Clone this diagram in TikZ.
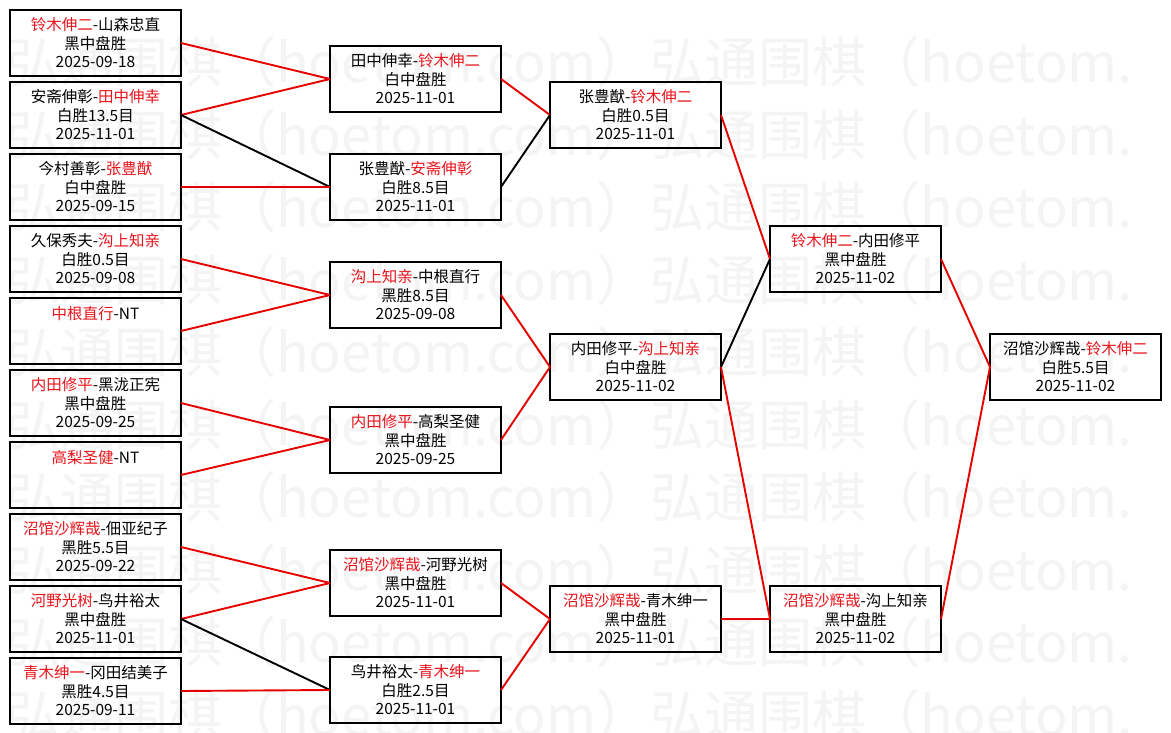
\documentclass[tikz,border=0pt]{standalone}
\usepackage{fontspec}
\setmainfont{Noto Sans CJK SC}
\usetikzlibrary{positioning}
\definecolor{winred}{HTML}{E8141B}
\definecolor{linered}{HTML}{E60000}
\definecolor{markgray}{HTML}{F4F4F4}
\newcommand{\wn}[1]{\textcolor{winred}{#1}}

\begin{document}
\begin{tikzpicture}[x=1pt, y=-1pt,
  node distance=6pt,
  game/.style={rectangle, draw=black, line width=1.8pt, outer sep=0pt, inner sep=0pt,
               minimum width=171pt, minimum height=66pt, align=center,
               font=\fontsize{15.5}{18.5}\selectfont},
  keygame/.style={game, line width=2.6pt},
  watermark/.style={anchor=west, inner sep=0pt, text=markgray,
               font=\fontsize{54}{60}\selectfont},
  win/.style={linered, line width=1.9pt},
  lose/.style={black, line width=1.9pt}]
  \useasboundingbox (0,0) rectangle (1171,733);
  \fill[white] (0,0) rectangle (1171,733);
  % faint site mark behind the bracket
  \begin{scope}
    \clip (0,0) rectangle (1171,733);
    \foreach \i in {0,...,9}
      \node[watermark] (wm\i) at (6, 62+72.5*\i) {弘通围棋（hoetom.com）弘通围棋（hoetom.};
  \end{scope}
  % first round
  \node[game] (r1a) at (95.5,43) {\wn{铃木伸二}-山森忠直\\ 黑中盘胜\\ 2025-09-18};
  \node[keygame, below=of r1a] (r1b) {安斋伸彰-\wn{田中伸幸}\\ 白胜13.5目\\ 2025-11-01};
  \node[game, below=of r1b] (r1c) {今村善彰-\wn{张豊猷}\\ 白中盘胜\\ 2025-09-15};
  \node[keygame, below=of r1c] (r1d) {久保秀夫-\wn{沟上知亲}\\ 白胜0.5目\\ 2025-09-08};
  \node[keygame, below=of r1d] (r1e) {\wn{中根直行}-NT\\ ~\\ ~};
  \node[game, below=of r1e] (r1f) {\wn{内田修平}-黑泷正宪\\ 黑中盘胜\\ 2025-09-25};
  \node[keygame, below=of r1f] (r1g) {\wn{高梨圣健}-NT\\ ~\\ ~};
  \node[game, below=of r1g] (r1h) {\wn{沼馆沙辉哉}-佃亚纪子\\ 黑胜5.5目\\ 2025-09-22};
  \node[keygame, below=of r1h] (r1i) {\wn{河野光树}-鸟井裕太\\ 黑中盘胜\\ 2025-11-01};
  \node[game, below=of r1i] (r1j) {\wn{青木绅一}-冈田结美子\\ 黑胜4.5目\\ 2025-09-11};
  % second round
  \node[game] (r2a) at (415.5,79) {田中伸幸-\wn{铃木伸二}\\ 白中盘胜\\ 2025-11-01};
  \node[game] (r2b) at (415.5,187) {张豊猷-\wn{安斋伸彰}\\ 白胜8.5目\\ 2025-11-01};
  \node[keygame] (r2c) at (415.5,295) {\wn{沟上知亲}-中根直行\\ 黑胜8.5目\\ 2025-09-08};
  \node[keygame] (r2d) at (415.5,440) {\wn{内田修平}-高梨圣健\\ 黑中盘胜\\ 2025-09-25};
  \node[game] (r2e) at (415.5,583) {\wn{沼馆沙辉哉}-河野光树\\ 黑中盘胜\\ 2025-11-01};
  \node[game] (r2f) at (415.5,690) {鸟井裕太-\wn{青木绅一}\\ 白胜2.5目\\ 2025-11-01};
  % third round
  \node[game] (r3a) at (635.5,115) {张豊猷-\wn{铃木伸二}\\ 白胜0.5目\\ 2025-11-01};
  \node[keygame] (r3b) at (635.5,367) {内田修平-\wn{沟上知亲}\\ 白中盘胜\\ 2025-11-02};
  \node[game] (r3c) at (635.5,619) {\wn{沼馆沙辉哉}-青木绅一\\ 黑中盘胜\\ 2025-11-01};
  % fourth round and final
  \node[game] (r4a) at (855.5,259) {\wn{铃木伸二}-内田修平\\ 黑中盘胜\\ 2025-11-02};
  \node[game] (r4b) at (855.5,619) {\wn{沼馆沙辉哉}-沟上知亲\\ 黑中盘胜\\ 2025-11-02};
  \node[game] (fin) at (1075.5,367) {沼馆沙辉哉-\wn{铃木伸二}\\ 白胜5.5目\\ 2025-11-02};
  % connectors
  \draw[win] (r1a.east) -- (r2a.west);
  \draw[win] (r1b.east) -- (r2a.west);
  \draw[lose] (r1b.east) -- (r2b.west);
  \draw[win] (r1c.east) -- (r2b.west);
  \draw[win] (r1d.east) -- (r2c.west);
  \draw[win] (r1e.east) -- (r2c.west);
  \draw[win] (r1f.east) -- (r2d.west);
  \draw[win] (r1g.east) -- (r2d.west);
  \draw[win] (r1h.east) -- (r2e.west);
  \draw[win] (r1i.east) -- (r2e.west);
  \draw[lose] (r1i.east) -- (r2f.west);
  \draw[win] (r1j.east) -- (r2f.west);
  \draw[win] (r2a.east) -- (r3a.west);
  \draw[lose] (r2b.east) -- (r3a.west);
  \draw[win] (r2c.east) -- (r3b.west);
  \draw[win] (r2d.east) -- (r3b.west);
  \draw[win] (r2e.east) -- (r3c.west);
  \draw[win] (r2f.east) -- (r3c.west);
  \draw[win] (r3a.east) -- (r4a.west);
  \draw[lose] (r3b.east) -- (r4a.west);
  \draw[win] (r3b.east) -- (r4b.west);
  \draw[win] (r3c.east) -- (r4b.west);
  \draw[win] (r4a.east) -- (fin.west);
  \draw[win] (r4b.east) -- (fin.west);
\end{tikzpicture}
\end{document}
